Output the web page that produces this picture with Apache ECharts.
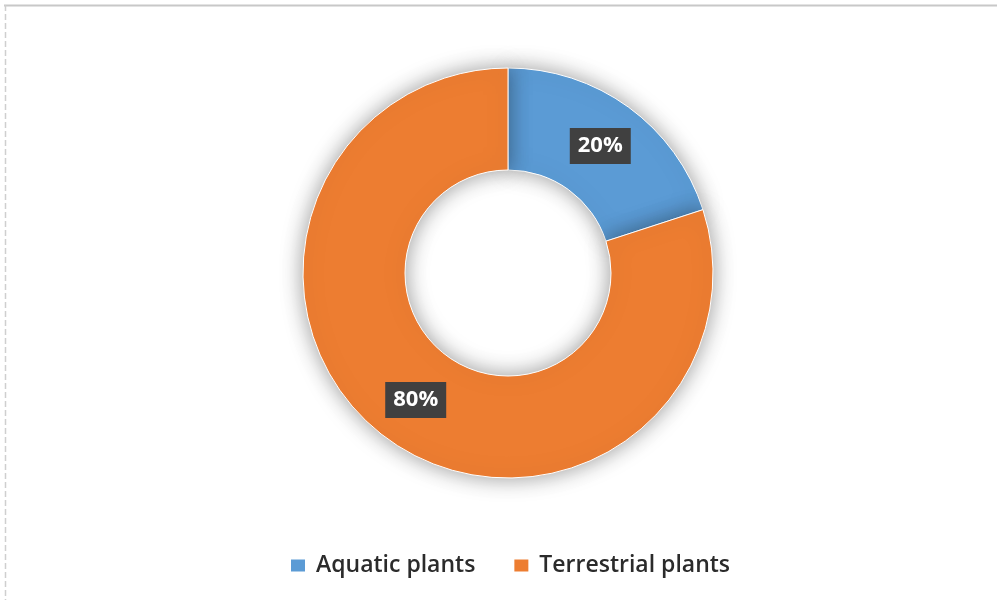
<!DOCTYPE html>
<html><head><meta charset="utf-8">
<script src="https://cdn.jsdelivr.net/npm/echarts@6/dist/echarts.min.js"></script>
<style>html,body{margin:0;padding:0;background:#fff}#c{width:997px;height:600px}</style>
</head><body><div id="c"></div>
<script>
const categories = ['Aquatic plants', 'Terrestrial plants'];
const values = [20, 80];
const colors = ['#5B9BD5', '#ED7D31'];

const chart = echarts.init(document.getElementById('c'));
chart.setOption({
  animation: false,
  backgroundColor: '#fff',
  graphic: [
    {type: 'line', shape: {x1: 4, y1: 5.5, x2: 997, y2: 5.5}, style: {stroke: '#c8c8c8', lineWidth: 2}},
    {type: 'line', shape: {x1: 5.5, y1: 5, x2: 5.5, y2: 600}, style: {stroke: '#cfcfcf', lineWidth: 1.5, lineDash: [6, 3]}}
  ],
  legend: {
    top: 549,
    left: 284,
    itemWidth: 16,
    itemHeight: 14,
    itemGap: 37,
    icon: 'rect',
    textStyle: {fontFamily: 'Open Sans', fontSize: 23, color: '#2b2b2b', fontWeight: 600, padding: [0, 0, 0, 5]},
    data: categories
  },
  series: [{
    type: 'pie',
    center: [508, 273],
    radius: [103, 205],
    startAngle: 90,
    clockwise: true,
    itemStyle: {borderColor: '#fff', borderWidth: 1, shadowBlur: 22, shadowColor: 'rgba(0,0,0,0.4)'},
    label: {
      show: true,
      position: 'inside',
      formatter: p => p.value + '%',
      backgroundColor: '#404040',
      color: '#fff',
      fontFamily: 'Open Sans',
      fontWeight: 'bold',
      fontSize: 22,
      padding: [8, 8, 6, 8]
    },
    labelLine: {show: false},
    data: categories.map((n, i) => ({name: n, value: values[i], itemStyle: {color: colors[i]}}))
  }]
});
</script></body></html>
